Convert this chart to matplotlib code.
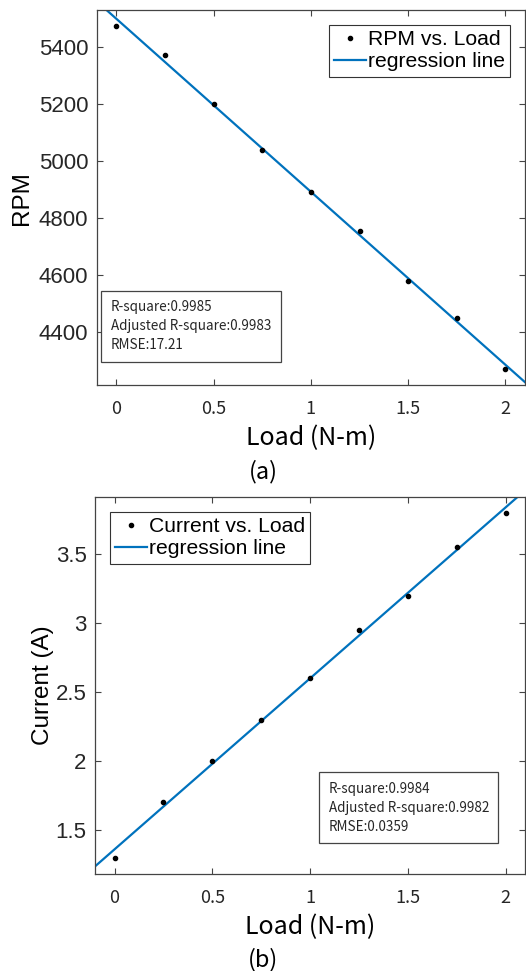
import matplotlib
matplotlib.use("Agg")
import matplotlib.pyplot as plt
import numpy as np

# --- data ---
load = [0, 0.25, 0.5, 0.75, 1.0, 1.25, 1.5, 1.75, 2.0]
rpm = [5473, 5374, 5200, 5039, 4892, 4753, 4576, 4449, 4268]
current = [1.30, 1.70, 2.00, 2.30, 2.60, 2.95, 3.20, 3.55, 3.80]

x_ticks = [0, 0.5, 1, 1.5, 2]
x_ticklabels = ["0", "0.5", "1", "1.5", "2"]
rpm_ticks = [4400, 4600, 4800, 5000, 5200, 5400]
cur_ticks = [1.5, 2, 2.5, 3, 3.5]
cur_ticklabels = ["1.5", "2", "2.5", "3", "3.5"]

rpm_stats = ["R-square:0.9985", "Adjusted R-square:0.9983", "RMSE:17.21"]
cur_stats = ["R-square:0.9984", "Adjusted R-square:0.9982", "RMSE:0.0359"]

BLUE = "#0072BD"
GRAY = "#262626"
KR = ["Noto Sans CJK KR", "DejaVu Sans"]
SANS = ["Liberation Sans", "DejaVu Sans"]

fig = plt.figure(figsize=(5.26, 9.71), dpi=100)
ax1 = fig.add_axes([0.184, 0.6035, 0.814, 0.386])
ax2 = fig.add_axes([0.1806, 0.0999, 0.818, 0.388])


def draw_panel(ax, x, y, ylim, yticks, yticklabels, ylabel, ylabelpad,
               data_label, legend_loc, stats, stats_xy):
    x = np.asarray(x)
    y = np.asarray(y)
    slope, icpt = np.polyfit(x, y, 1)
    xl = (-0.1, 2.1)
    xx = np.array(xl)
    ax.plot(x, y, ".", color="black", markersize=6, label=data_label, zorder=3)
    ax.plot(xx, slope * xx + icpt, "-", color=BLUE, linewidth=1.6,
            label="regression line", zorder=2)
    ax.set_xlim(*xl)
    ax.set_ylim(*ylim)

    ax.set_xticks(x_ticks)
    ax.set_xticklabels(x_ticklabels, family=KR, fontsize=13, color=GRAY)
    ax.set_yticks(yticks)
    ax.set_yticklabels(yticklabels, family=SANS, fontsize=16, color=GRAY)
    ax.tick_params(direction="in", top=True, right=True, length=4,
                   width=0.8, color="#444444")
    ax.tick_params(axis="x", pad=11)
    ax.tick_params(axis="y", pad=6)
    for sp in ax.spines.values():
        sp.set_color("#444444")
        sp.set_linewidth(0.9)

    ax.set_xlabel("Load (N-m)", family=KR, fontsize=18, color="black",
                  labelpad=5)
    ax.set_ylabel(ylabel, family=SANS, fontsize=17.5, color="black",
                  labelpad=ylabelpad)

    leg = ax.legend(loc=legend_loc, prop={"family": SANS, "size": 15.2},
                    handlelength=1.5, handletextpad=0.1, borderpad=0.25,
                    labelspacing=0.15, fancybox=False, framealpha=1,
                    borderaxespad=0.7)
    leg.get_frame().set_edgecolor("#333333")
    leg.get_frame().set_linewidth(0.8)

    ax.text(stats_xy[0], stats_xy[1], "\n".join(stats), transform=ax.transAxes,
            family=KR, fontsize=9.7, color=GRAY, va="bottom", ha="left",
            linespacing=1.45,
            bbox=dict(boxstyle="square,pad=0.7", facecolor="white",
                      edgecolor="#444444", linewidth=0.9))


draw_panel(ax1, load, rpm, (4212, 5530), rpm_ticks,
           [str(t) for t in rpm_ticks], "RPM", 4.5, "RPM vs. Load",
           "upper right", rpm_stats, (0.033, 0.087))
draw_panel(ax2, load, current, (1.181, 3.913), cur_ticks, cur_ticklabels,
           "Current (A)", 1, "Current vs. Load", "upper left", cur_stats,
           (0.543, 0.107))

fig.text(0.5, 1 - 472 / 971, "(a)", family=KR, fontsize=17, ha="center",
         va="center")
fig.text(0.5, 1 - 960 / 971, "(b)", family=KR, fontsize=17, ha="center",
         va="center")

fig.savefig("out.png", dpi=100)
